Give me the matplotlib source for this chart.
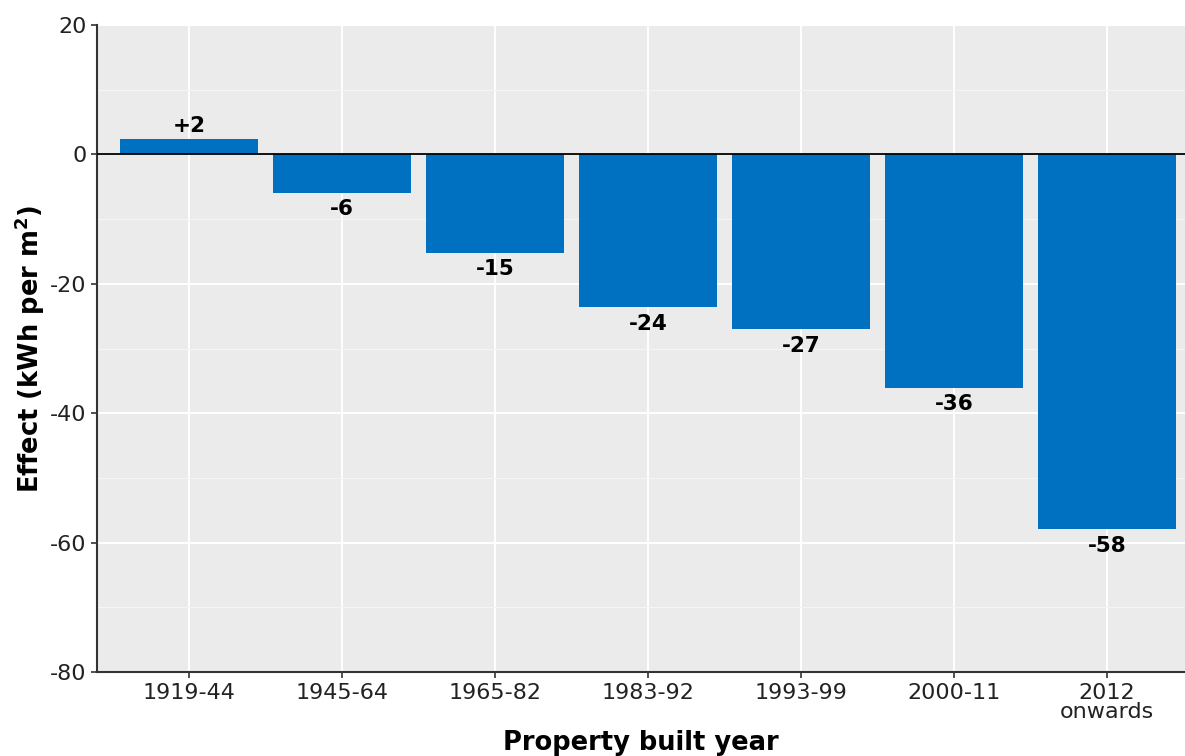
import matplotlib.pyplot as plt
from matplotlib.ticker import MultipleLocator

plt.rcParams["axes.unicode_minus"] = False

# ---- Data ----
periods = ["1919-44", "1945-64", "1965-82", "1983-92", "1993-99", "2000-11", "2012\nonwards"]
effects = [2.3, -5.9, -15.2, -23.6, -27.0, -36.1, -57.9]
labels = ["+2", "-6", "-15", "-24", "-27", "-36", "-58"]

fig = plt.figure(figsize=(11.85, 7.56), dpi=100)
ax = fig.add_axes([0.082, 0.111, 0.918, 0.856])
ax.set_facecolor("#EBEBEB")

x = list(range(len(periods)))
ax.bar(x, effects, width=0.9, color="#0070C0", zorder=3)
ax.axhline(0, color="black", lw=1.3, zorder=4)

# ---- Value labels ----
for xi, v, lab in zip(x, effects, labels):
    if v >= 0:
        ax.text(xi, v + 0.5, lab, ha="center", va="bottom",
                fontsize=15.5, fontweight="bold", zorder=5)
    else:
        ax.text(xi, v - 1.0, lab, ha="center", va="top",
                fontsize=15.5, fontweight="bold", zorder=5)

# ---- Axes ----
ax.set_xlim(-0.6, 6.51)
ax.set_ylim(-80, 20)
ax.set_xticks(x)
ax.set_xticklabels(periods, fontsize=16, color="#222222", linespacing=0.95)
ax.yaxis.set_major_locator(MultipleLocator(20))
ax.yaxis.set_minor_locator(MultipleLocator(10))
ax.tick_params(axis="y", labelsize=16, colors="#222222")
ax.tick_params(which="minor", length=0)
ax.tick_params(which="major", length=4, width=1.2, color="#333333")

ax.grid(which="major", color="white", lw=1.4, zorder=0)
ax.grid(which="minor", axis="y", color="#F5F5F5", lw=0.8, zorder=0)
ax.set_axisbelow(True)

for side in ["top", "right"]:
    ax.spines[side].set_visible(False)
for side in ["left", "bottom"]:
    ax.spines[side].set_color("#333333")
    ax.spines[side].set_linewidth(1.5)

ax.set_ylabel("Effect (kWh per m$^{\\mathbf{2}}$)", fontsize=18.5, fontweight="bold", labelpad=2)
ax.set_xlabel("Property built year", fontsize=18.5, fontweight="bold", labelpad=6)

fig.savefig("out.png", dpi=100)
